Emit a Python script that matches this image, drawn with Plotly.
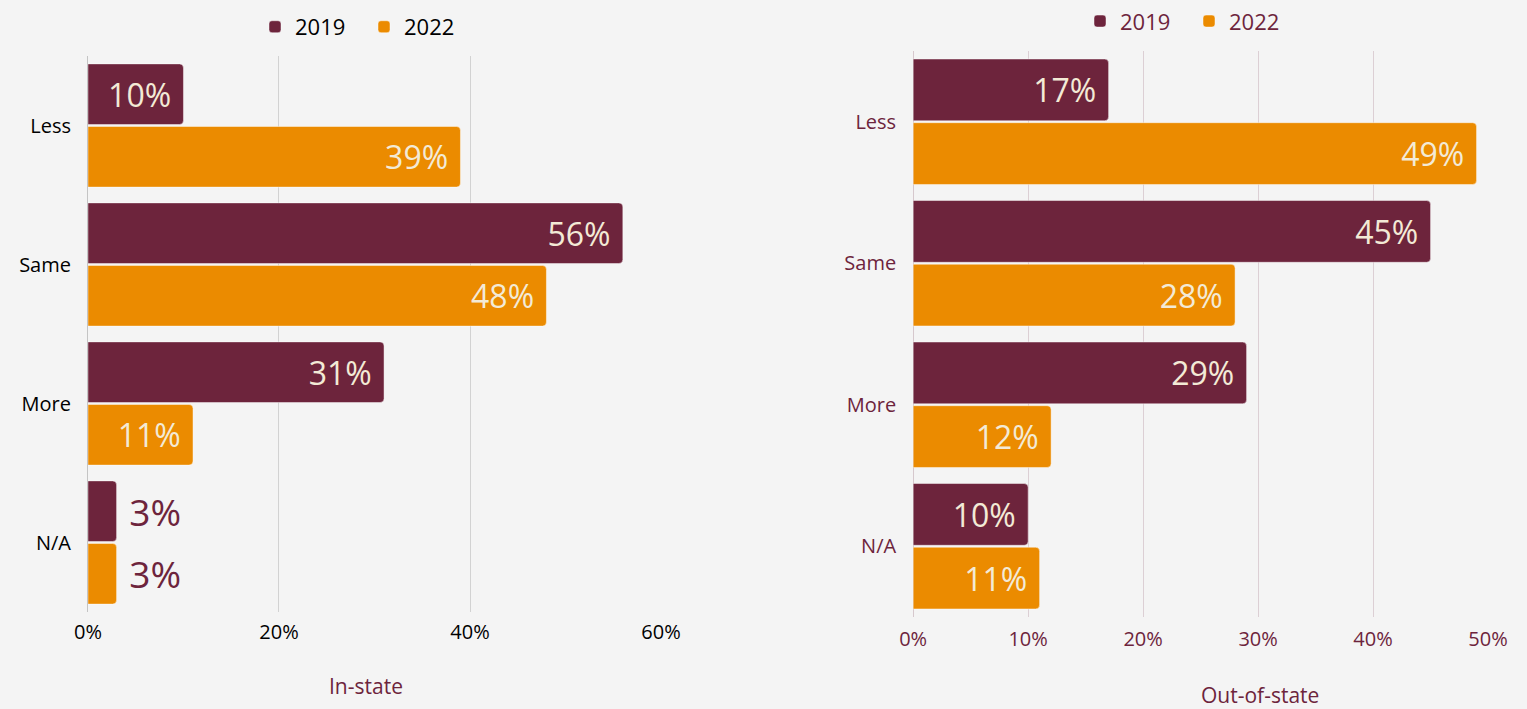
import plotly.graph_objects as go

# Survey answers, top to bottom
categories = ["Less", "Same", "More", "N/A"]

# In-state respondents (percent)
in_state_2019 = [10, 56, 31, 3]
in_state_2022 = [39, 48, 11, 3]

# Out-of-state respondents (percent)
out_state_2019 = [17, 45, 29, 10]
out_state_2022 = [49, 28, 12, 11]

in_ticks = [0, 20, 40, 60]
out_ticks = [0, 10, 20, 30, 40, 50]

MAROON = "#6d243c"
ORANGE = "#eb8b00"
CREAM = "#f3ead6"
BG = "#f4f4f4"
FONT = "Open Sans"
NBSP = "\u00a0"

fig = go.Figure()


def add_bars(values, name, color, xaxis, yaxis, legend):
    # short bars carry their label just past the bar end
    outside = [v < 6 for v in values]
    labels = [f"{NBSP}{v}%" if o else f"{v}%{NBSP}" for v, o in zip(values, outside)]
    fig.add_trace(go.Bar(
        y=categories,
        x=values,
        name=name,
        orientation="h",
        marker=dict(color=color, line=dict(color="rgba(255,255,255,0.45)", width=1)),
        text=labels,
        textposition=["outside" if o else "inside" for o in outside],
        insidetextanchor="end",
        insidetextfont=dict(color=CREAM, size=32, family=FONT),
        outsidetextfont=dict(color=MAROON, size=37, family=FONT),
        constraintext="none",
        cliponaxis=False,
        xaxis=xaxis,
        yaxis=yaxis,
        legend=legend,
        hoverinfo="skip",
    ))


add_bars(in_state_2019, "2019", MAROON, "x", "y", "legend")
add_bars(in_state_2022, "2022", ORANGE, "x", "y", "legend")
add_bars(out_state_2019, "2019", MAROON, "x2", "y2", "legend2")
add_bars(out_state_2022, "2022", ORANGE, "x2", "y2", "legend2")

fig.update_layout(
    width=1527,
    height=709,
    margin=dict(l=0, r=0, t=0, b=0, autoexpand=False),
    paper_bgcolor=BG,
    plot_bgcolor=BG,
    font=dict(family=FONT, size=20, color="black"),
    barmode="group",
    bargap=0.1,
    bargroupgap=0.03,
    barcornerradius=4,
    showlegend=True,
    legend=dict(
        orientation="h", x=255 / 1527, y=0.962, xanchor="left", yanchor="middle",
        entrywidth=64,
        font=dict(size=22, color="black", family=FONT),
        bgcolor="rgba(0,0,0,0)", itemclick=False, itemdoubleclick=False,
    ),
    legend2=dict(
        orientation="h", x=1080 / 1527, y=0.970, xanchor="left", yanchor="middle",
        entrywidth=64,
        font=dict(size=22, color=MAROON, family=FONT),
        bgcolor="rgba(0,0,0,0)", itemclick=False, itemdoubleclick=False,
    ),
    xaxis=dict(
        domain=[0.0576, 0.4329], range=[0, 60], automargin=False,
        tickvals=in_ticks, ticktext=[f"{t}%" for t in in_ticks],
        showgrid=True, gridcolor="#d2d2d2", gridwidth=1,
        zeroline=True, zerolinecolor="#c4c4c4", zerolinewidth=1,
        showline=False, ticks="", ticklabelstandoff=6,
        tickfont=dict(size=20, color="black"), fixedrange=True,
    ),
    yaxis=dict(
        domain=[1 - 612 / 709, 1 - 56 / 709], anchor="x", automargin=False,
        categoryorder="array", categoryarray=categories, autorange="reversed",
        showgrid=False, zeroline=False, showline=False, ticks="",
        ticklabelstandoff=16,
        tickfont=dict(size=20, color="black"), fixedrange=True,
    ),
    xaxis2=dict(
        domain=[0.598, 0.9745], range=[0, 50], anchor="y2", automargin=False,
        tickvals=out_ticks, ticktext=[f"{t}%" for t in out_ticks],
        showgrid=True, gridcolor="#dccfd4", gridwidth=1,
        zeroline=True, zerolinecolor="#d6c8cd", zerolinewidth=1,
        showline=False, ticks="", ticklabelstandoff=8,
        tickfont=dict(size=20, color=MAROON), fixedrange=True,
    ),
    yaxis2=dict(
        domain=[1 - 617 / 709, 1 - 51 / 709], anchor="x2", automargin=False,
        categoryorder="array", categoryarray=categories, autorange="reversed",
        showgrid=False, zeroline=False, showline=False, ticks="",
        ticklabelstandoff=16,
        tickfont=dict(size=20, color=MAROON), fixedrange=True,
    ),
    annotations=[
        dict(text="In-state", xref="paper", yref="paper",
             x=366 / 1527, y=1 - 686 / 709, xanchor="center", yanchor="middle",
             showarrow=False, font=dict(size=21, color=MAROON, family=FONT)),
        dict(text="Out-of-state", xref="paper", yref="paper",
             x=1260 / 1527, y=1 - 695 / 709, xanchor="center", yanchor="middle",
             showarrow=False, font=dict(size=21, color=MAROON, family=FONT)),
    ],
)

fig.write_html("out.html")
